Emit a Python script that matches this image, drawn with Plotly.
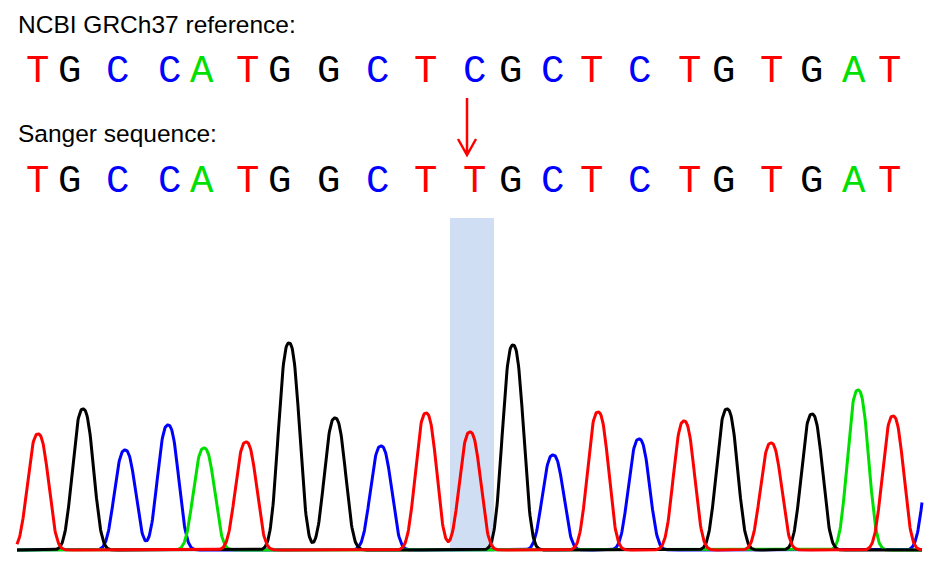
import numpy as np
import plotly.graph_objects as go

# ---- data ----
ref_seq    = list("TGCCATGGCTCGCTCTGTGAT")
sanger_seq = list("TGCCATGGCTTGCTCTGTGAT")
mutation_index = 10

# base-call peak positions (scan units) and peak heights (signal units)
peak_pos    = [38, 83, 125, 168, 204, 246, 289, 335, 381, 426, 470, 513, 553, 598, 639, 684, 727, 771, 812, 858, 893, 935]
peak_base   = ["T", "G", "C", "C", "A", "T", "G", "G", "C", "T", "T", "G", "C", "T", "C", "T", "G", "T", "G", "A", "T", "C"]
peak_height = [116, 141, 100, 125, 102, 108, 207, 132, 104, 137, 118, 205, 95, 138, 111, 129, 141, 107, 136, 160, 134, 118]

# ---- layout / style ----
letter_x = [37, 69, 117, 169, 202, 247, 279, 328, 377, 425, 474, 510, 552, 591, 639, 689, 723, 771, 811, 854, 889]
base_color = {"T": "#ff0000", "G": "#000000", "C": "#0000ff", "A": "#00e000"}
trace_order = ["C", "A", "G", "T"]
PEAK_S, PEAK_P = 13.5, 2.5
X_START, X_END = 17, 922
W, H = 935, 567
BASELINE_PX = 550

def ypx(py):
    return BASELINE_PX - py

xs = np.arange(X_START, X_END + 0.25, 0.5)

fig = go.Figure()

# highlight of the mutated base
hl_center = (peak_pos[mutation_index] + letter_x[mutation_index]) / 2
fig.add_shape(type="rect", xref="x", yref="y",
              x0=hl_center - 22, x1=hl_center + 22, y0=-2, y1=ypx(218),
              fillcolor="#cfdef3", line=dict(width=0), layer="below")

for b in trace_order:
    ys = np.zeros_like(xs)
    for p, bb, h in zip(peak_pos, peak_base, peak_height):
        if bb == b:
            ys += h * np.exp(-(np.abs(xs - p) / PEAK_S) ** PEAK_P)
    fig.add_trace(go.Scatter(x=xs, y=ys, mode="lines",
                             line=dict(color=base_color[b], width=3),
                             hoverinfo="skip", showlegend=False))

annotations = []
mono = "Liberation Mono, Courier New, monospace"
for i, (r, s) in enumerate(zip(ref_seq, sanger_seq)):
    annotations.append(dict(x=letter_x[i], y=ypx(72), xref="x", yref="y", text=r,
                            showarrow=False, xanchor="center", yanchor="middle",
                            font=dict(family=mono, size=39, color=base_color[r])))
    annotations.append(dict(x=letter_x[i], y=ypx(182), xref="x", yref="y", text=s,
                            showarrow=False, xanchor="center", yanchor="middle",
                            font=dict(family=mono, size=39, color=base_color[s])))

sans = "Liberation Sans, Arial, Helvetica, sans-serif"
annotations.append(dict(x=16, y=ypx(24), xref="x", yref="y", text="NCBI GRCh37 reference:",
                        showarrow=False, xanchor="left", yanchor="middle",
                        font=dict(family=sans, size=24.5, color="#000000")))
annotations.append(dict(x=16, y=ypx(133), xref="x", yref="y", text="Sanger sequence:",
                        showarrow=False, xanchor="left", yanchor="middle",
                        font=dict(family=sans, size=24.5, color="#000000")))

# arrow pointing at the mutation
ax = letter_x[mutation_index] - 7
y_top, y_tip = ypx(98), ypx(155)
fig.add_shape(type="path", xref="x", yref="y",
              path=f"M {ax},{y_top} L {ax},{y_tip} M {ax-9},{y_tip+16} L {ax},{y_tip} L {ax+9},{y_tip+16}",
              line=dict(color="#ff0000", width=2.5))

fig.update_layout(
    width=W, height=H,
    margin=dict(l=0, r=0, t=0, b=0),
    paper_bgcolor="white", plot_bgcolor="white",
    xaxis=dict(range=[0, W], visible=False, fixedrange=True),
    yaxis=dict(range=[ypx(H), ypx(0)], visible=False, fixedrange=True),
    annotations=annotations,
    showlegend=False,
)

fig.write_html("out.html", config={"displayModeBar": False},
               post_script="document.body.style.margin='0px';document.body.style.overflow='hidden';")
